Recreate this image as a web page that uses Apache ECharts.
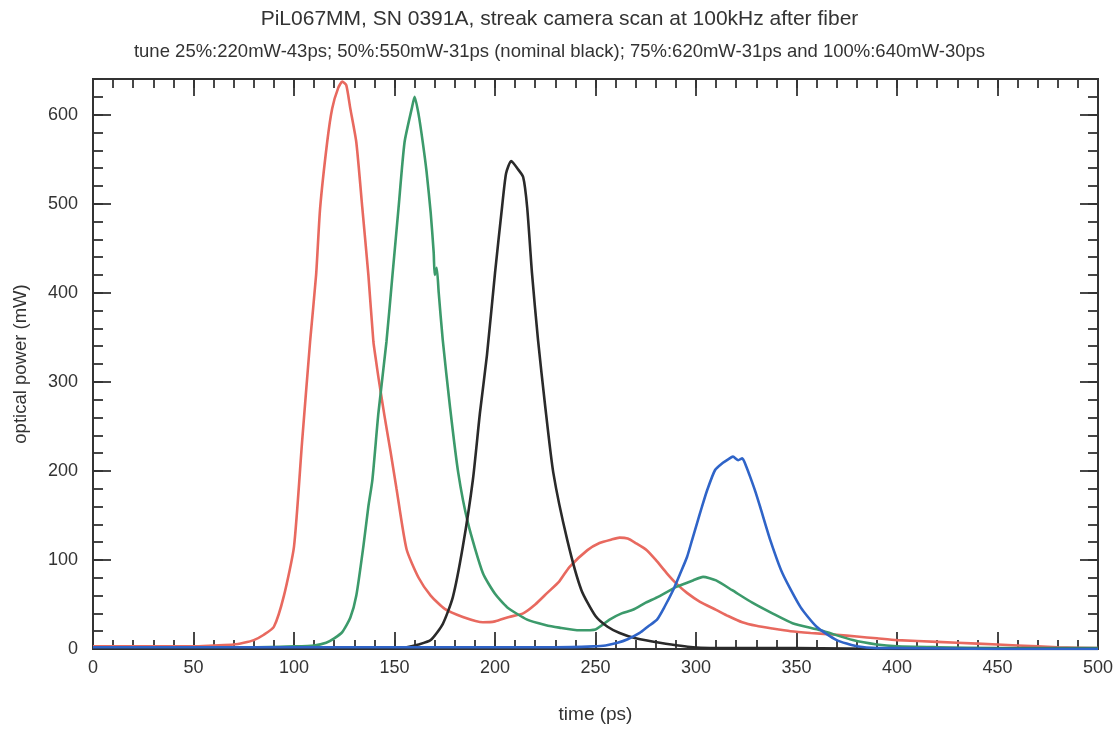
<!DOCTYPE html>
<html>
<head>
<meta charset="utf-8">
<script src="https://cdn.jsdelivr.net/npm/echarts@6/dist/echarts.min.js"></script>
<style>html,body{margin:0;padding:0;background:#fff;}#c{width:1119px;height:729px;}</style>
</head>
<body>
<div id="c"></div>
<script>
// ---- data (time in ps, optical power in mW) ----
const titleText = 'PiL067MM, SN 0391A, streak camera scan at 100kHz after fiber';
const subtitleText = 'tune 25%:220mW-43ps; 50%:550mW-31ps (nominal black); 75%:620mW-31ps and 100%:640mW-30ps';
const xName = 'time (ps)';
const yName = 'optical power (mW)';

const redT = [0,10,20,30,40,50,60,70,75,80,85,90,95,100,104,108,111,113,116.5,119,122,124,126,128,131,134,137,139.5,140.6,142,145,148,151,156,162,168,175,184,194,200,207,214,220,226,232,237,246,252,258,262,266,270,275.5,280,285.5,290,295.5,302,310,316,323,330,338,347,357,370,380,390,400,420,440,460,480,500];
const redV = [3,3,3,3,3,3,4,5,7,10,16,25,60,115,232,345,420,495,569,607,630,637,633,607,569,495,420,345,327,305,262,222,180,112,80,60,45,36,30,31,36,40,50,63,76,92,111,119,123,125,124,119,111,100,85,74,63,53,44,37,30,26,23,20,18,16,14,12,10,8,6,4,2,1];

const greenT = [0,20,40,60,80,100,110,116,120,124,128,131,134.5,137,139,142,146,149,152,155,158.6,160,162,164,166,168,169.5,170,171,172,174,177.6,181.7,186.6,194,200,206,216,225,232,242,250,257,263,268.6,275,280.6,290.5,298.5,303.5,310,318,328,338,348,362,378,390,400,420,450,500];
const greenV = [2,2,2,2,2,3,4,7,12,19,35,60,115,160,190,265,345,420,495,569,607,620,600,570,535,490,445,420,428,400,347,272,198,141,85,62,47,33,27,24,21,22,33,40,44,52,58,70,77,81,77,66,52,40,29,21,10,5,3,2,1,1];

const blackT = [0,50,100,150,156,162,168,174,179,184,189,192.5,196,200,203.5,205.5,208,209,211,214,216,218.4,221.4,225,229,236,243,250,256,262,270,282,298.5,320,350,400,500];
const blackV = [1,1,1,1,2,5,10,28,58,115,190,265,330,422,496,534,548,546,540,530,496,422,347,272,198,122,66,37,25,18,12,7,2,1,1,0,0];

const blueT = [0,50,100,150,200,230,249,255,261,266,272,276,280.6,284.5,288.6,292,295.5,298,300.5,303,305.5,309.5,313.4,316,318.4,321,323,325,327,329.5,332,337,343,352,360,370,380,390,400,450,500];
const blueV = [2,2,2,2,2,2,3,4,7,11,18,25,33,48,66,84,103,122,141,160,178,201,209,213,216,212,214,205,193,177,159,122,85,47,25,10,3,1,1,0,0];

const xTicksMajor = 50, xTicksMinor = 10, xMin = 0, xMax = 500;
const yTicksMajor = 100, yTicksMinor = 20, yMin = 0, yMax = 640;

function pairs(t, v) { return t.map((x, i) => [x, v[i]]); }

const axisColor = '#333333';
const font = 'Liberation Sans, Arial, sans-serif';

function xAxisDef(pos, interval, len, labels) {
  return {
    type: 'value', position: pos, min: xMin, max: xMax, interval: interval,
    name: labels ? xName : '', nameLocation: 'middle', nameGap: 56,
    nameTextStyle: { color: '#333', fontSize: 19, fontFamily: font },
    axisLine: { show: true, onZero: false, lineStyle: { color: axisColor, width: 2 } },
    axisTick: { show: true, inside: true, length: len, lineStyle: { color: axisColor, width: 1.8 } },
    axisLabel: { show: labels, color: '#333', fontSize: 18, fontFamily: font, margin: 10 },
    splitLine: { show: false }
  };
}
function yAxisDef(pos, interval, len, labels) {
  return {
    type: 'value', position: pos, min: yMin, max: yMax, interval: interval,
    name: labels ? yName : '', nameLocation: 'middle', nameGap: 63,
    nameTextStyle: { color: '#333', fontSize: 18.5, fontFamily: font },
    axisLine: { show: true, onZero: false, lineStyle: { color: axisColor, width: 2 } },
    axisTick: { show: true, inside: true, length: len, lineStyle: { color: axisColor, width: 1.8 } },
    axisLabel: { show: labels, color: '#333', fontSize: 18, fontFamily: font, margin: 15, showMaxLabel: false },
    splitLine: { show: false }
  };
}

function lineSeries(name, t, v, color) {
  return {
    name: name, type: 'line', xAxisIndex: 0, yAxisIndex: 0,
    data: pairs(t, v), showSymbol: false, smooth: 0.2,
    lineStyle: { color: color, width: 2.6 }, itemStyle: { color: color },
    z: 3
  };
}

const chart = echarts.init(document.getElementById('c'), null, { renderer: 'canvas' });
chart.setOption({
  backgroundColor: '#fff',
  animation: false,
  title: [
    { text: titleText, left: 'center', top: 4, textStyle: { color: '#333', fontSize: 21, fontWeight: 'normal', fontFamily: font } },
    { text: subtitleText, left: 'center', top: 37, textStyle: { color: '#333', fontSize: 18.5, fontWeight: 'normal', fontFamily: font } }
  ],
  grid: { left: 93, right: 21, top: 79, bottom: 80, containLabel: false },
  xAxis: [
    xAxisDef('bottom', xTicksMajor, 17, true),
    xAxisDef('bottom', xTicksMinor, 9, false),
    xAxisDef('top', xTicksMajor, 17, false),
    xAxisDef('top', xTicksMinor, 9, false)
  ],
  yAxis: [
    yAxisDef('left', yTicksMajor, 18, true),
    yAxisDef('left', yTicksMinor, 10, false),
    yAxisDef('right', yTicksMajor, 18, false),
    yAxisDef('right', yTicksMinor, 10, false)
  ],
  series: [
    lineSeries('100%', redT, redV, '#e8695f'),
    lineSeries('75%', greenT, greenV, '#3c9a6b'),
    lineSeries('50%', blackT, blackV, '#2a2a2a'),
    lineSeries('25%', blueT, blueV, '#2f64c8')
  ]
});
</script>
</body>
</html>
